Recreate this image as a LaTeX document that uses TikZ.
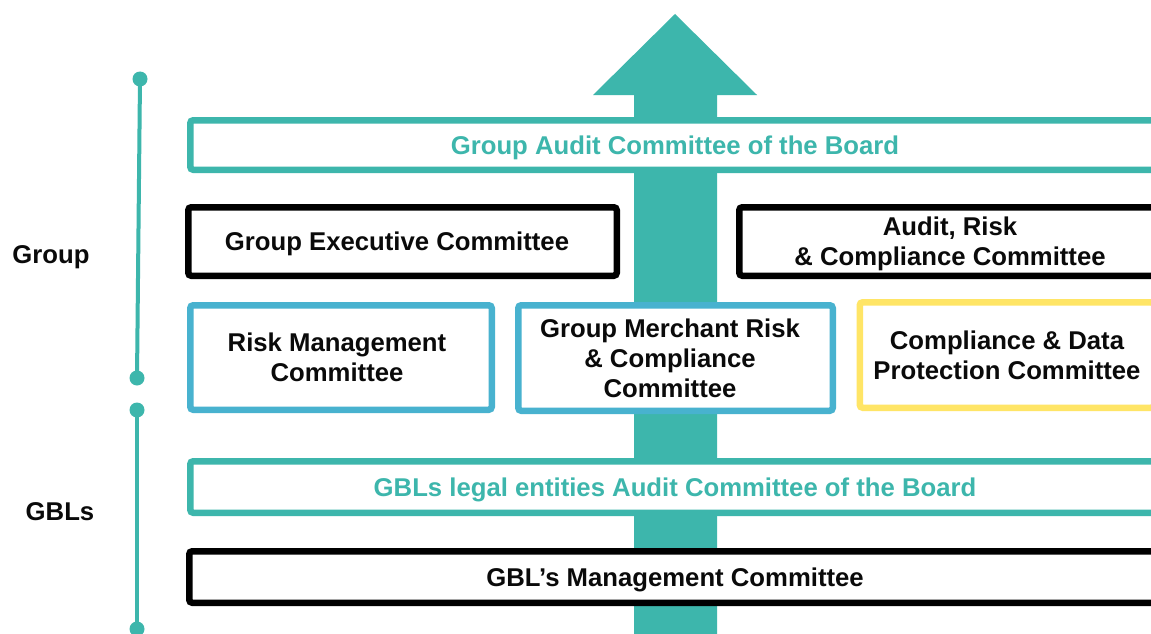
\documentclass[tikz,border=0pt]{standalone}
\usepackage{fontspec}
\setmainfont{Liberation Sans}
\usepackage{xcolor}
\usepackage{tikz}
\usetikzlibrary{arrows.meta, positioning, calc}
\definecolor{GovTeal}{RGB}{61, 182, 172}
\definecolor{GovBlue}{RGB}{72, 178, 207}
\definecolor{GovYellow}{RGB}{255, 229, 102}
\definecolor{GovText}{RGB}{10, 10, 10}
% committee text, set a little lower than the box centre
\newcommand{\boardtext}[1]{\raisebox{-3pt}[\height][\depth]{\begin{tabular}{@{}c@{}}#1\end{tabular}}}

\begin{document}
\begin{tikzpicture}[x=1pt, y=-1pt,
    every node/.style={font=\fontsize{25.7}{30}\selectfont\bfseries, text=GovText},
    board/.style={draw, line width=6.5pt, fill=white, rounded corners=3pt, inner sep=0pt},
    dot/.style={circle, fill=GovTeal, inner sep=0pt, minimum size=15pt},
    tier/.style={draw=GovTeal, line width=4pt}]
  \clip (0,0) rectangle (1151,634);
  \fill[white] (0,0) rectangle (1151,634);

  % upward arrow behind the committees
  \fill[GovTeal] (593,95) -- (675,14) -- (757,95) -- (717,95) -- (717,640)
    -- (634,640) -- (634,95) -- cycle;

  % tiers on the left
  \node[dot] (grpTop) at (140,79) {};
  \node[dot] (grpBot) at (137,378) {};
  \node[dot] (gblTop) at (137,410) {};
  \node[dot] (gblBot) at (137,629) {};
  \draw[tier] (grpTop.center) -- (grpBot.center);
  \draw[tier] (gblTop.center) -- (gblBot.center);
  \node (grpLabel) at (51,257) {Group};
  \node (gblLabel) at (60,512) {GBLs};

  % committees
  \node[board, draw=GovTeal, text=GovTeal, minimum width=969.5pt, minimum height=49.5pt]
    (auditBoard) at (675,145) {\boardtext{Group Audit Committee of the Board}};
  \node[board, draw=black, minimum width=428.5pt, minimum height=68.5pt]
    (execCom) at (402.5,241.5) {\boardtext{Group Executive Committee}\kern11pt};
  \node[board, draw=black, minimum width=421.5pt, minimum height=68.5pt]
    (arcCom) at (950,241.5) {\boardtext{Audit, Risk\\\& Compliance Committee}};
  \node[board, draw=GovBlue, minimum width=301.5pt, minimum height=104.5pt]
    (riskCom) at (341,357.5) {\boardtext{Risk Management\\Committee}\kern8pt};
  \node[board, draw=GovBlue, minimum width=314.5pt, minimum height=105.5pt]
    (merchCom) at (675.5,358) {\boardtext{Group Merchant Risk\\\& Compliance\\Committee}\kern11pt};
  \node[board, draw=GovYellow, minimum width=294.5pt, minimum height=105.5pt]
    (dataCom) at (1007,355) {\boardtext{Compliance \& Data\\Protection Committee}};
  \node[board, draw=GovTeal, text=GovTeal, minimum width=969.5pt, minimum height=51.5pt]
    (gblBoard) at (675,487) {\boardtext{GBLs legal entities Audit Committee of the Board}};
  \node[board, draw=black, minimum width=971.5pt, minimum height=51.5pt]
    (gblMgmt) at (675,577) {\boardtext{GBL’s Management Committee}};
\end{tikzpicture}
\end{document}
